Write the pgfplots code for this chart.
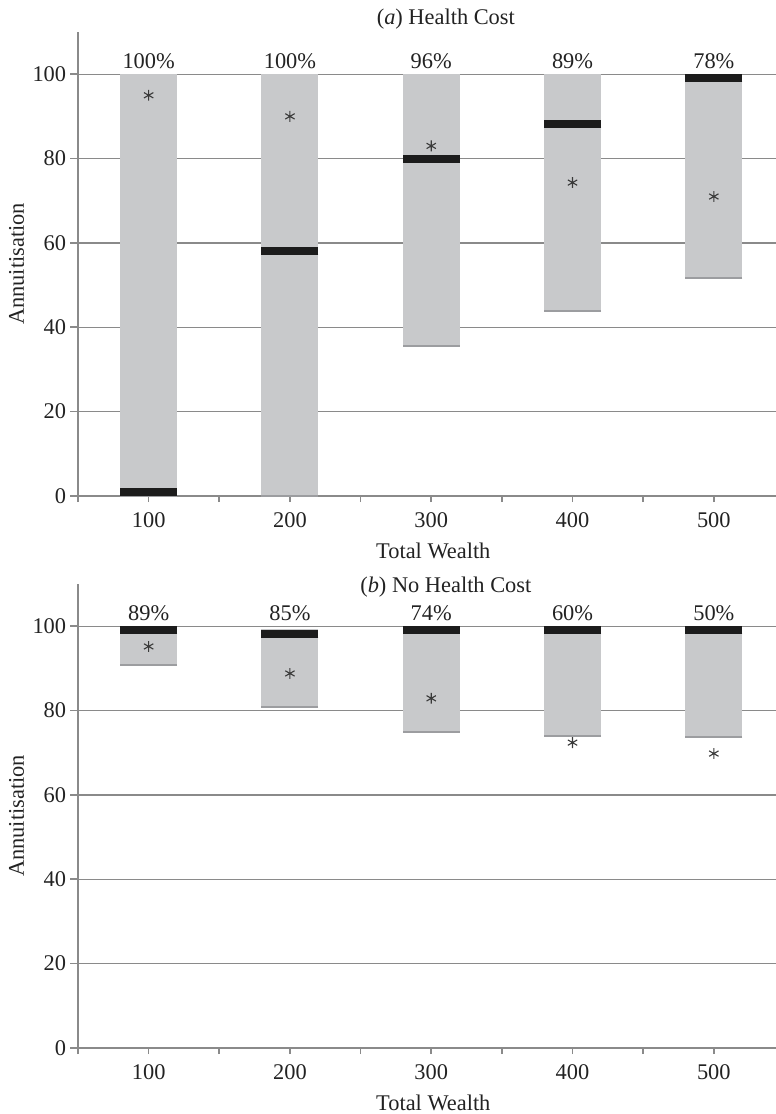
\documentclass[border=0pt]{standalone}
\usepackage{fontspec}
\setmainfont{Liberation Serif}
\usepackage{pgfplots}
\usepackage{pgfplotstable}
\pgfplotsset{compat=1.18}
\definecolor{barGray}{HTML}{C8C9CB}
\definecolor{shadowGray}{HTML}{9C9DA0}
\definecolor{medBlack}{HTML}{1C1C1C}
\definecolor{axisGray}{HTML}{8A8A8A}
\definecolor{txt}{HTML}{222222}
\definecolor{astGray}{HTML}{3A3A3A}

% x lo hi med mean
\pgfplotstableread{
x lo hi med mean
1 0 100 1.0 95.0
2 0 100 58.1 90.0
3 35.5 100 80.0 83.0
4 43.8 100 88.1 74.3
5 51.8 100 99.1 71.0
}\tabA
\pgfplotstableread{
x lo hi med mean
1 90.7 100 99.0 95.2
2 80.8 99.3 98.1 88.8
3 74.8 100 99.0 82.9
4 74.0 100 99.0 72.4
5 73.8 100 99.0 69.8
}\tabB

\pgfplotsset{
  myax/.style={
    scale only axis, width=349pt, height=232pt,
    xmin=0.5, xmax=5.44, ymin=0, ymax=110,
    clip=false,
    axis x line*=bottom, axis y line*=left,
    axis line style={draw=axisGray, line width=0.8pt, -},
    ytick={0,20,40,60,80,100},
    ymajorgrids,
    major grid style={draw=axisGray, line width=0.6pt},
    tick align=outside,
    major tick length=4pt,
    ytick style={draw=axisGray, line width=0.8pt},
    xtick={0.5,1.5,2.5,3.5,4.5},
    xticklabels={},
    xtick style={draw=axisGray, line width=0.8pt, /pgfplots/major tick length=3pt},
    extra x ticks={1,2,3,4,5},
    extra x tick labels={100,200,300,400,500},
    extra x tick style={major tick length=0pt, grid=none, tick style={draw=none},
      xticklabel style={anchor=base, yshift=-15.6pt}},
    yticklabel style={xshift=2pt},
    /pgf/number format/assume math mode=true,
    tick label style={text=txt},
    label style={text=txt},
    xlabel={Total Wealth},
    xlabel style={at={(rel axis cs:0.509,0)}, anchor=base, yshift=-31pt, inner sep=0pt},
    ylabel={Annuitisation},
    ylabel style={at={(rel axis cs:0,0.5)}, anchor=center, rotate=0, yshift=30.7pt},
    title style={at={(rel axis cs:0.527,1)}, anchor=base, inner sep=0pt, text=txt},
  },
  gbar/.style={draw=none, mark=none,
    error bars/.cd, y dir=minus, y explicit, error mark=none,
    error bar style={line width=28.5pt, draw=barGray}},
  shad/.style={only marks, mark=-, mark size=14.25pt, mark options={line width=1pt, draw=shadowGray}},
  medm/.style={only marks, mark=-, mark size=14.25pt, mark options={line width=4pt, draw=medBlack}},
  meanm/.style={only marks, mark=asterisk, mark size=2.7pt, mark options={line width=0.55pt, draw=astGray}},
  pctm/.style={only marks, mark=none, nodes near coords, point meta=explicit symbolic,
    every node near coord/.append style={anchor=base, inner sep=0pt, text=txt}},
}

\begin{document}
\fontsize{11.2}{13.4}\selectfont
\begin{tikzpicture}
\useasboundingbox (0,0) rectangle (388pt,-557pt);
\begin{axis}[myax, at={(39pt,-248pt)}, anchor=south west,
  title={(\textit{a})~Health Cost}, title style={yshift=-2pt}]
\addplot[gbar] table[x=x, y=hi, y error minus expr=\thisrow{hi}-\thisrow{lo}] {\tabA};
\addplot[shad] table[x=x, y=lo] {\tabA};
\addplot[medm] table[x=x, y=med] {\tabA};
\addplot[meanm] table[x=x, y=mean] {\tabA};
\addplot[pctm] coordinates {(1,101.3) [100\%] (2,101.3) [100\%] (3,101.3) [96\%] (4,101.3) [89\%] (5,101.3) [78\%]};
\end{axis}
\begin{axis}[myax, at={(39pt,-524pt)}, anchor=south west,
  title={(\textit{b})~No Health Cost}, title style={yshift=-10pt}]
\addplot[gbar] table[x=x, y=hi, y error minus expr=\thisrow{hi}-\thisrow{lo}] {\tabB};
\addplot[shad] table[x=x, y=lo] {\tabB};
\addplot[medm] table[x=x, y=med] {\tabB};
\addplot[meanm] table[x=x, y=mean] {\tabB};
\addplot[pctm] coordinates {(1,101.3) [89\%] (2,101.3) [85\%] (3,101.3) [74\%] (4,101.3) [60\%] (5,101.3) [50\%]};
\end{axis}
\end{tikzpicture}
\end{document}
